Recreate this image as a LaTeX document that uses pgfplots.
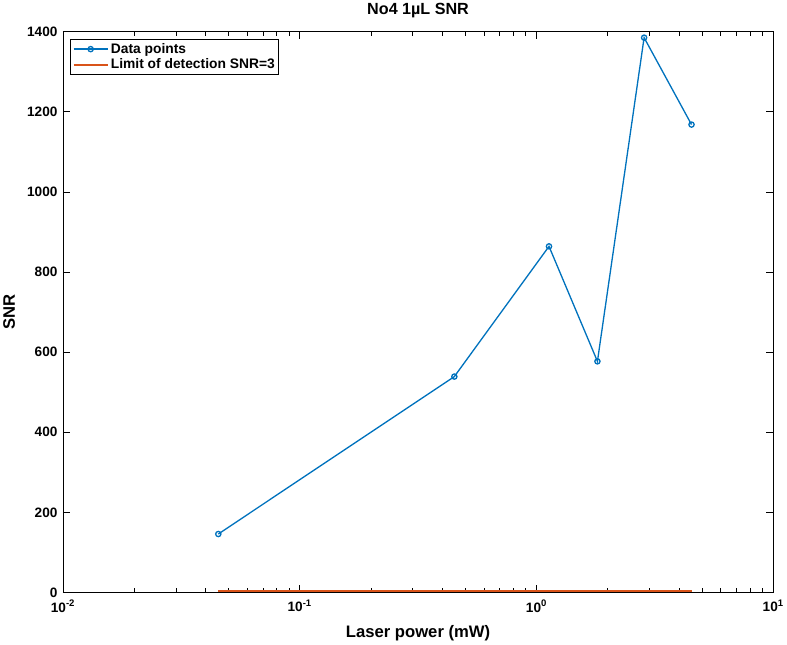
\documentclass[border=0pt]{standalone}
\usepackage{fontspec}
\setmainfont{Liberation Sans}
\usepackage{pgfplots}
\pgfplotsset{compat=1.18}
\definecolor{mblue}{rgb}{0,0.447,0.741}
\definecolor{morange}{rgb}{0.85,0.325,0.098}
\begin{document}
\begin{tikzpicture}
\begin{axis}[
  scale only axis,
  width=704pt, height=556pt,
  xmode=log,
  xmin=0.01, xmax=10,
  ymin=0, ymax=1400,
  ytick={0,200,400,600,800,1000,1200,1400},
  yticklabels={0,200,400,600,800,1000,1200,1400},
  xtick={0.01,0.1,1,10},
  xticklabels={{10\textsuperscript{-2}},{10\textsuperscript{-1}},{10\textsuperscript{0}},{10\textsuperscript{1}}},
  tick align=inside,
  tick pos=both,
  axis line style={line width=0.9pt},
  major tick style={black, line width=0.7pt},
  minor tick style={black, line width=0.7pt},
  major tick length=7pt,
  minor tick length=4pt,
  ticklabel style={font=\fontsize{13.5}{15}\selectfont\bfseries},
  yticklabel style={xshift=-2pt},
  xticklabel style={yshift=-4pt},
  title={No4 1µL SNR},
  title style={font=\fontsize{16}{18}\selectfont\bfseries, yshift=4pt},
  xlabel={Laser power (mW)},
  ylabel={SNR},
  xlabel style={yshift=-6pt},
  ylabel style={yshift=5pt},
  label style={font=\fontsize{16.5}{18}\selectfont\bfseries},
  legend style={font=\fontsize{13.7}{15}\selectfont\bfseries, draw=black, line width=0.8pt, inner sep=2pt, at={(0.01,0.987)}, anchor=north west},
  legend image post style={},
  legend image code/.code={\draw[#1] (0pt,0pt) -- (34pt,0pt); \path[#1, only marks] plot coordinates {(17pt,0pt)};},
  legend cell align=left,
]
\addplot[color=mblue, line width=1.3pt, mark=o, mark size=2.6pt] coordinates {
  (0.0453,146) (0.45,539) (1.13,864) (1.81,577) (2.85,1385) (4.52,1168)
};
\addlegendentry{Data points}
\addplot[color=morange, line width=2pt, no marks] coordinates {
  (0.0453,3) (0.45,3) (1.13,3) (1.81,3) (2.85,3) (4.52,3)
};
\addlegendentry{Limit of detection SNR=3}
\end{axis}
\end{tikzpicture}
\end{document}
